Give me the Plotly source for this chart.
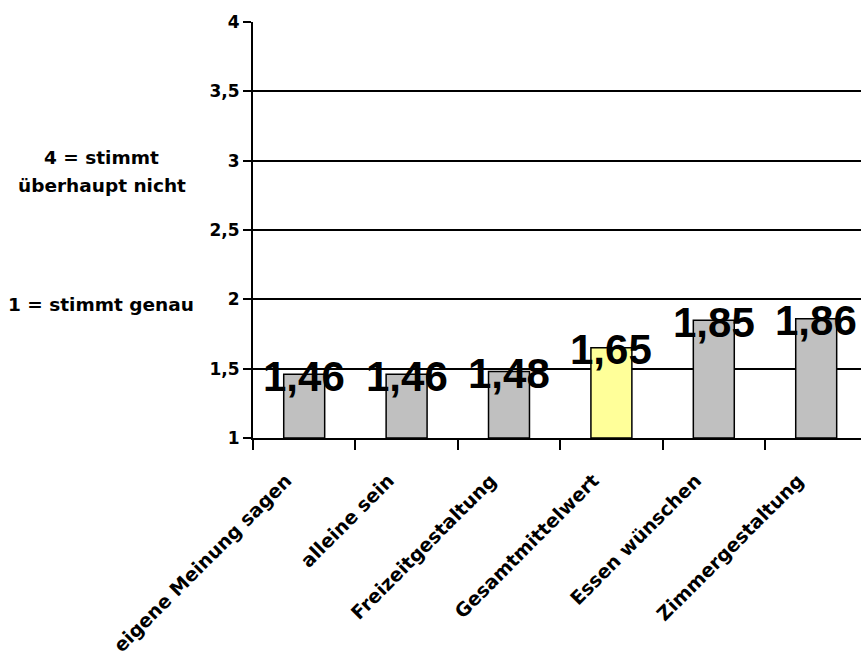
import plotly.graph_objects as go

# Survey items and their mean ratings (1 = stimmt genau, 4 = stimmt überhaupt nicht)
categories = [
    "eigene Meinung sagen",
    "alleine sein",
    "Freizeitgestaltung",
    "Gesamtmittelwert",
    "Essen wünschen",
    "Zimmergestaltung",
]
values = [1.46, 1.46, 1.48, 1.65, 1.85, 1.86]
bar_colors = ["#C0C0C0", "#C0C0C0", "#C0C0C0", "#FFFF99", "#C0C0C0", "#C0C0C0"]
y_ticks = [1, 1.5, 2, 2.5, 3, 3.5, 4]

W, H = 861, 657
M_L, M_R, M_T, M_B = 253, 0, 22, 219
plot_w = W - M_L - M_R
plot_h = H - M_T - M_B
cat_px = 102.4  # pixel width of one category slot
y_floor = y_ticks[0]

small_font = dict(family="DejaVu Sans", size=18.5, color="black")
big_font = dict(family="Liberation Sans, Arial", size=42, color="black")

fig = go.Figure()
fig.add_trace(
    go.Bar(
        x=categories,
        y=[v - y_floor for v in values],
        base=y_floor,
        marker=dict(color=bar_colors, line=dict(color="black", width=1.5)),
        hoverinfo="skip",
    )
)

annotations = []
for cat, v in zip(categories, values):
    annotations.append(
        dict(
            x=cat, y=v, xref="x", yref="y",
            text=f"<b>{v:.2f}</b>".replace(".", ","),
            showarrow=False, xanchor="center", yanchor="middle",
            yshift=-2, font=big_font,
        )
    )


def px_to_paper(px, py):
    return (px - M_L) / plot_w, (H - M_B - py) / plot_h


for text, (px, py) in [
    ("<b>4 = stimmt</b>", (101, 158)),
    ("<b>überhaupt nicht</b>", (102, 185)),
    ("<b>1 = stimmt genau</b>", (101, 304)),
]:
    ax, ay = px_to_paper(px, py)
    annotations.append(
        dict(
            x=ax, y=ay, xref="paper", yref="paper", text=text,
            showarrow=False, xanchor="center", yanchor="middle",
            font=small_font,
        )
    )

fig.update_layout(
    width=W,
    height=H,
    margin=dict(l=M_L, r=M_R, t=M_T, b=M_B, autoexpand=False),
    paper_bgcolor="white",
    plot_bgcolor="white",
    separators=",.",
    bargap=0.6,
    showlegend=False,
    annotations=annotations,
    font=small_font,
)
fig.update_xaxes(
    type="category",
    range=[-0.5, -0.5 + plot_w / cat_px],
    showline=True, linecolor="black", linewidth=2,
    ticks="outside", tickson="boundaries", ticklen=10, tickwidth=1.5, tickcolor="black",
    tickangle=-45,
    tickfont=dict(family="DejaVu Sans", size=19, color="black", weight="bold"),
    ticklabelstandoff=22,
    ticklabelshift=-18,
    showgrid=False,
    automargin=False,
)
fig.update_yaxes(
    range=[y_ticks[0], y_ticks[-1]],
    tickvals=y_ticks,
    tickformat=".1~f",
    showline=True, linecolor="black", linewidth=2,
    ticks="outside", ticklen=8, tickwidth=1.5, tickcolor="black",
    tickfont=dict(family="DejaVu Sans", size=17, color="black", weight="bold"),
    showgrid=True, gridcolor="black", gridwidth=1.5,
    zeroline=False,
    automargin=False,
)

fig.write_html("out.html")
